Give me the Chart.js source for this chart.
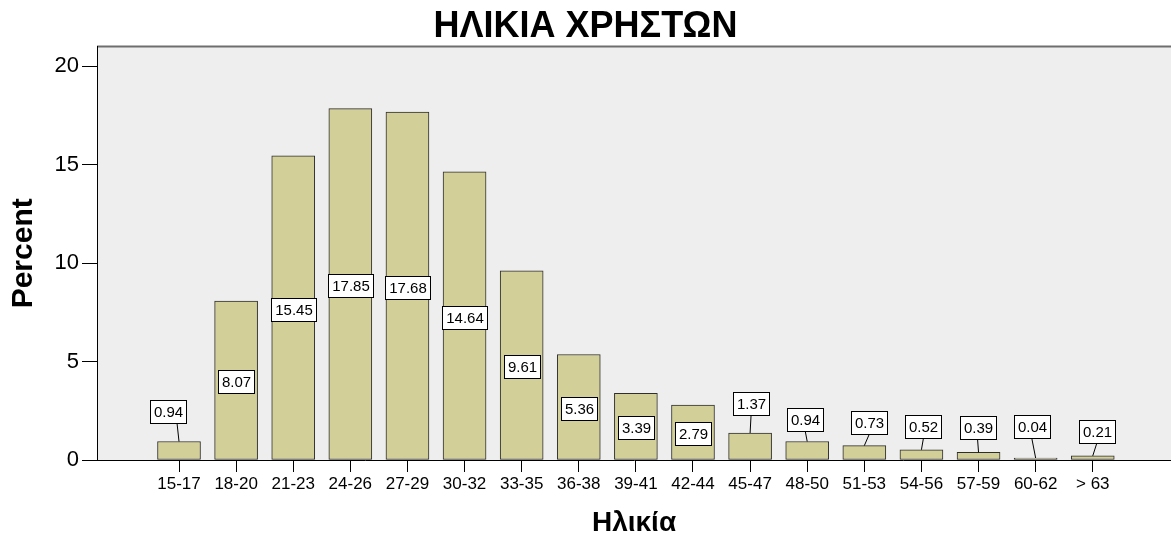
<!DOCTYPE html>
<html>
<head>
<meta charset="utf-8">
<script src="https://cdn.jsdelivr.net/npm/chart.js@4"></script>
<style>
  html, body { margin: 0; padding: 0; background: #fff; }
</style>
</head>
<body>
<canvas id="chart" width="1171" height="538"></canvas>
<script>
// Data (percent of users per age group)
const ageGroups = ["15-17", "18-20", "21-23", "24-26", "27-29", "30-32", "33-35", "36-38",
  "39-41", "42-44", "45-47", "48-50", "51-53", "54-56", "57-59", "60-62", "> 63"];
const percentValues = [0.94, 8.07, 15.45, 17.85, 17.68, 14.64, 9.61, 5.36,
  3.39, 2.79, 1.37, 0.94, 0.73, 0.52, 0.39, 0.04, 0.21];
const yTicks = [0, 5, 10, 15, 20];

const FONT = "'Liberation Sans', Arial, sans-serif";

// small bars get their label above, nudged like SPSS does (dx, dy from bar top)
const calloutShift = {
  0: [-11, -30], 10: [1, -30], 11: [-2, -22], 12: [5, -23],
  13: [2, -23], 14: [-1, -25], 15: [-4, -32], 16: [4, -24],
};

// =========================================================================
// Plugins
// =========================================================================

const plotBackground = {
  id: "plotBackground",
  beforeDraw(chart) {
    const { ctx, chartArea: a } = chart;
    ctx.save();
    ctx.fillStyle = "#eeeeee";
    ctx.fillRect(a.left, a.top, a.right - a.left, a.bottom - a.top);
    ctx.strokeStyle = "#6e6e6e";
    ctx.lineWidth = 2;
    ctx.beginPath();
    ctx.moveTo(a.left, a.top);
    ctx.lineTo(a.right, a.top);
    ctx.stroke();
    ctx.restore();
  },
};

const valueBoxes = {
  id: "valueBoxes",
  afterDatasetsDraw(chart) {
    const { ctx } = chart;
    const meta = chart.getDatasetMeta(0);
    ctx.save();
    ctx.font = "15px " + FONT;
    ctx.textAlign = "center";
    ctx.textBaseline = "middle";
    meta.data.forEach((bar, i) => {
      const text = percentValues[i].toFixed(2);
      const w = Math.round(ctx.measureText(text).width + 7);
      const h = 23;
      let cx = bar.x;
      let cy = (bar.y + bar.base) / 2 + 1.5;
      const shift = calloutShift[i];
      if (shift) {
        cx = bar.x + shift[0];
        cy = bar.y + shift[1];
        // leader line from box to bar top
        const sx = Math.abs(shift[0]) > 8 ? bar.x - 2 : cx;
        ctx.strokeStyle = "#000";
        ctx.lineWidth = 1;
        ctx.beginPath();
        ctx.moveTo(sx, cy + h / 2);
        ctx.lineTo(bar.x, bar.y);
        ctx.stroke();
      }
      const x0 = Math.round(cx - w / 2) + 0.5;
      const y0 = Math.round(cy - h / 2) + 0.5;
      ctx.fillStyle = "#ffffff";
      ctx.fillRect(x0, y0, w, h);
      ctx.strokeStyle = "#000";
      ctx.lineWidth = 1;
      ctx.strokeRect(x0, y0, w, h);
      ctx.fillStyle = "#000";
      ctx.fillText(text, x0 + w / 2, y0 + h / 2 + 0.5);
    });
    ctx.restore();
  },
};

// =========================================================================
// Chart
// =========================================================================

new Chart(document.getElementById("chart"), {
  type: "bar",
  data: {
    datasets: [{
      data: ageGroups.map((_, i) => ({ x: i, y: percentValues[i] })),
      backgroundColor: "#d3cf98",
      borderColor: "#2e2e2e",
      borderWidth: 1,
      borderSkipped: false,
      barThickness: 43,
      minBarLength: 2,
    }],
  },
  options: {
    responsive: false,
    animation: false,
    layout: { padding: 0 },
    plugins: {
      legend: { display: false },
      tooltip: { enabled: false },
      title: {
        display: true,
        text: "ΗΛΙΚΙΑ ΧΡΗΣΤΩΝ",
        color: "#000",
        font: { family: FONT, size: 36, weight: "bold", lineHeight: 1.1 },
        padding: { top: 7, bottom: 0 },
      },
    },
    scales: {
      x: {
        type: "linear",
        offset: false,
        min: -1.436,
        max: 17.37,
        afterBuildTicks: (s) => { s.ticks = ageGroups.map((_, i) => ({ value: i })); },
        afterFit: (s) => { s.height = 78; },
        grid: { offset: false, drawOnChartArea: false, color: "#000", tickLength: 12 },
        border: { display: true, color: "#000", width: 1 },
        ticks: {
          color: "#000",
          padding: 2,
          maxRotation: 0,
          autoSkip: false,
          font: { family: FONT, size: 17 },
          callback: (v) => ageGroups[v],
        },
        title: {
          display: true,
          text: "Ηλικία",
          color: "#000",
          font: { family: FONT, size: 28, weight: "bold", lineHeight: 1 },
          padding: { top: 0, bottom: 1 },
        },
      },
      y: {
        min: 0,
        max: 21,
        afterBuildTicks: (s) => { s.ticks = yTicks.map((v) => ({ value: v })); },
        afterFit: (s) => { s.width = 97; },
        grid: { drawOnChartArea: false, color: "#000", tickLength: 15 },
        border: { display: true, color: "#000", width: 1 },
        ticks: {
          color: "#000",
          padding: 3,
          font: { family: FONT, size: 22 },
        },
        title: {
          display: true,
          text: "Percent",
          color: "#000",
          font: { family: FONT, size: 30, weight: "bold", lineHeight: 1 },
          padding: { top: 9, bottom: 0 },
        },
      },
    },
  },
  plugins: [plotBackground, valueBoxes],
});
</script>
</body>
</html>
